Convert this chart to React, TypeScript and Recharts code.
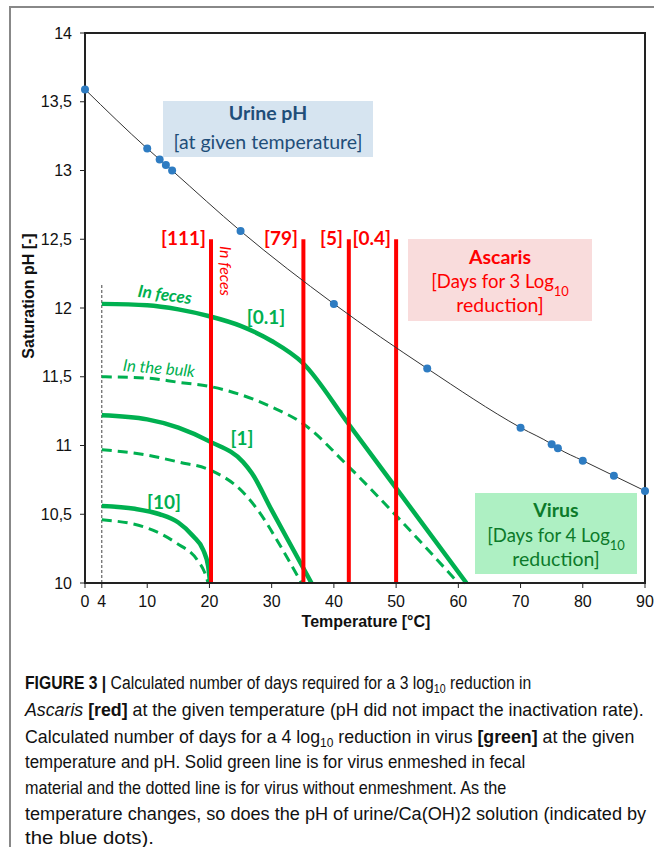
import {
  ComposedChart,
  Line,
  XAxis,
  YAxis,
  ReferenceLine,
  ReferenceArea,
} from "recharts";

// urine / Ca(OH)2 saturation pH at given temperature (blue dots)
const URINE_T = [0, 10, 12, 13, 14, 25, 40, 55, 70, 75, 76, 80, 85, 90];
const URINE_PH = [13.59, 13.16, 13.08, 13.04, 13.0, 12.56, 12.03, 11.56, 11.13, 11.01, 10.98, 10.89, 10.78, 10.67];

// Ascaris: red vertical lines (temperature) and days label
const ASCARIS_T = [20.25, 35.1, 42.4, 50.0];
const ASCARIS_DAYS = ["[111]", "[79]", "[5]", "[0.4]"];
const ASCARIS_TOP = 12.5;

// virus curves, in feces (solid) and in the bulk (dashed)
const FECES_01_T = [2.7, 10, 15, 20, 25, 30, 35, 42.3, 50, 61.3];
const FECES_01_PH = [12.03, 12.02, 11.99, 11.94, 11.87, 11.76, 11.6, 11.16, 10.69, 10.0];
const BULK_01_T = [2.7, 10, 15, 20, 25, 30, 35, 42.3, 50, 60];
const BULK_01_PH = [11.5, 11.49, 11.46, 11.43, 11.37, 11.28, 11.16, 10.85, 10.49, 10.0];
const FECES_1_T = [2.7, 10, 15, 20, 25.4, 26.8, 30, 33.5, 36.4];
const FECES_1_PH = [11.22, 11.19, 11.13, 11.03, 10.88, 10.8, 10.53, 10.24, 10.0];
const BULK_1_T = [2.7, 10, 15, 20.2, 25.4, 28.1, 31, 34.8];
const BULK_1_PH = [10.97, 10.93, 10.88, 10.82, 10.66, 10.51, 10.3, 10.0];
const FECES_10_T = [2.7, 8, 12, 15, 17.4, 19, 19.8, 20.1];
const FECES_10_PH = [10.56, 10.54, 10.5, 10.44, 10.34, 10.24, 10.12, 10.0];
const BULK_10_T = [2.7, 10, 14.7, 18, 19.2, 19.8];
const BULK_10_PH = [10.46, 10.4, 10.29, 10.17, 10.08, 10.0];

const START_T = 2.7;
const START_TOP = 12.18;

const X_TICKS = [0, 2.7, 10, 20, 30, 40, 50, 60, 70, 80, 90];
const X_TICK_LABELS = ["0", "4", "10", "20", "30", "40", "50", "60", "70", "80", "90"];
const Y_TICKS = [10, 10.5, 11, 11.5, 12, 12.5, 13, 13.5, 14];

const zip = (t: number[], ph: number[]) => t.map((x, i) => ({ t: x, ph: ph[i] }));

const GREEN = "#00b050";
const RED = "#ff0000";
const AXIS_FONT = "'Liberation Sans', Arial, sans-serif";
const NOTE_FONT = "Lato, 'Open Sans', sans-serif";

const Sub = ({ children }: { children: string }) => (
  <tspan baselineShift="sub" fontSize="0.7em">{children}</tspan>
);

// caption subscript: shift down, then back to the baseline
const CapSub = ({ children }: { children: string }) => (
  <>
    <tspan dy={4} fontSize={12.5}>{children}</tspan>
    <tspan dy={-4}> </tspan>
  </>
);

// caption line, squeezed horizontally like the original typesetting
const CapLine = ({ y, sx, children }: { y: number; sx: number; children: React.ReactNode }) => (
  <g transform={`translate(25 ${y}) scale(${sx} 1)`}>
    <text x={0} y={0}>{children}</text>
  </g>
);

const App = () => {
  return (
    <div style={{ position: "absolute", left: 0, top: 0, width: 654, height: 847, background: "#fff" }}>
      {/* figure frame */}
      <div style={{ position: "absolute", left: 9, top: 6, width: 645, height: 1.5, background: "#888" }} />
      <div style={{ position: "absolute", left: 9, top: 6, width: 1.5, height: 841, background: "#888" }} />

      <div style={{ position: "absolute", left: 0, top: 0 }}>
        <ComposedChart width={654} height={650} margin={{ top: 33, right: 9, bottom: 37, left: 25 }}>
          <XAxis
            type="number"
            dataKey="t"
            domain={[0, 90]}
            ticks={X_TICKS}
            tickFormatter={(v: number) => X_TICK_LABELS[X_TICKS.indexOf(v)] ?? String(v)}
            interval={0}
            height={30}
            tickSize={5}
            tickMargin={8}
            axisLine={{ stroke: "#222", strokeWidth: 2 }}
            tickLine={{ stroke: "#222" }}
            tick={{ fill: "#111", fontSize: 16, fontFamily: AXIS_FONT }}
            allowDuplicatedCategory={false}
          />
          <YAxis
            type="number"
            dataKey="ph"
            domain={[10, 14]}
            ticks={Y_TICKS}
            tickFormatter={(v: number) => String(v).replace(".", ",")}
            interval={0}
            width={60}
            tickSize={5}
            tickMargin={8}
            axisLine={{ stroke: "#222", strokeWidth: 2 }}
            tickLine={{ stroke: "#222" }}
            tick={{ fill: "#111", fontSize: 16, fontFamily: AXIS_FONT }}
          />
          <ReferenceArea x1={0} x2={90} y1={10} y2={14} fill="none" stroke="#222" strokeWidth={2} />
          <ReferenceLine
            segment={[{ x: START_T, y: 10 }, { x: START_T, y: START_TOP }]}
            stroke="#444"
            strokeWidth={1}
            strokeDasharray="3 2"
          />

          <Line data={zip(BULK_01_T, BULK_01_PH)} dataKey="ph" type="monotone" stroke={GREEN} strokeWidth={3} strokeDasharray="10 6" dot={false} isAnimationActive={false} />
          <Line data={zip(BULK_1_T, BULK_1_PH)} dataKey="ph" type="monotone" stroke={GREEN} strokeWidth={3} strokeDasharray="10 6" dot={false} isAnimationActive={false} />
          <Line data={zip(BULK_10_T, BULK_10_PH)} dataKey="ph" type="monotone" stroke={GREEN} strokeWidth={3} strokeDasharray="10 6" dot={false} isAnimationActive={false} />
          <Line data={zip(FECES_01_T, FECES_01_PH)} dataKey="ph" type="monotone" stroke={GREEN} strokeWidth={4.5} dot={false} isAnimationActive={false} />
          <Line data={zip(FECES_1_T, FECES_1_PH)} dataKey="ph" type="monotone" stroke={GREEN} strokeWidth={4.5} dot={false} isAnimationActive={false} />
          <Line data={zip(FECES_10_T, FECES_10_PH)} dataKey="ph" type="monotone" stroke={GREEN} strokeWidth={4.5} dot={false} isAnimationActive={false} />

          {ASCARIS_T.map((t) => (
            <ReferenceLine key={t} segment={[{ x: t, y: 10 }, { x: t, y: ASCARIS_TOP }]} stroke={RED} strokeWidth={4} />
          ))}

          <Line
            data={zip(URINE_T, URINE_PH)}
            dataKey="ph"
            type="monotone"
            stroke="#333"
            strokeWidth={1}
            dot={{ r: 4, fill: "#2e7cc2", stroke: "none" }}
            isAnimationActive={false}
          />
        </ComposedChart>
      </div>

      {/* annotations */}
      <svg width={654} height={847} style={{ position: "absolute", left: 0, top: 0, pointerEvents: "none" }}>
        <text x={28} y={296} transform="rotate(-90 28 296)" textAnchor="middle" dominantBaseline="central" fontFamily={AXIS_FONT} fontWeight="bold" fontSize={16} fill="#111">
          Saturation pH [-]
        </text>
        <text x={366} y={621} textAnchor="middle" dominantBaseline="central" fontFamily={AXIS_FONT} fontWeight="bold" fontSize={16} fill="#111">
          Temperature [°C]
        </text>

        <rect x={163} y={101} width={210} height={56} fill="#d6e4f0" />
        <text x={268} y={120} textAnchor="middle" fontFamily={NOTE_FONT} fontWeight="bold" fontSize={19.5} fill="#1f4e79">Urine pH</text>
        <text x={268} y={149} textAnchor="middle" fontFamily={NOTE_FONT} fontSize={19.5} fill="#1f4e79">[at given temperature]</text>

        <rect x={408} y={239} width={184} height={82} fill="#f9dcdc" />
        <text x={500} y={264} textAnchor="middle" fontFamily={NOTE_FONT} fontWeight="bold" fontSize={19.5} fill={RED}>Ascaris</text>
        <text x={500} y={288} textAnchor="middle" fontFamily={NOTE_FONT} fontSize={18.5} fill={RED}>[Days for 3 Log<Sub>10</Sub></text>
        <text x={500} y={312} textAnchor="middle" fontFamily={NOTE_FONT} fontSize={19.5} fill={RED}>reduction]</text>

        <rect x={475} y={493} width={162} height={81} fill="#aef0c3" />
        <text x={556} y={517} textAnchor="middle" fontFamily={NOTE_FONT} fontWeight="bold" fontSize={19.5} fill="#0c7a2a">Virus</text>
        <text x={556} y={542} textAnchor="middle" fontFamily={NOTE_FONT} fontSize={18.5} fill="#0c7a2a">[Days for 4 Log<Sub>10</Sub></text>
        <text x={556} y={566} textAnchor="middle" fontFamily={NOTE_FONT} fontSize={19.5} fill="#0c7a2a">reduction]</text>

        {ASCARIS_DAYS.map((d, i) => (
          <text key={d} x={[206, 298, 343, 391][i]} y={245} textAnchor="end" fontFamily={NOTE_FONT} fontWeight="bold" fontSize={19} fill={RED}>{d}</text>
        ))}
        <text x={226} y={271} transform="rotate(90 226 271)" textAnchor="middle" dominantBaseline="central" fontFamily={NOTE_FONT} fontStyle="italic" fontSize={16} fill={RED}>In feces</text>

        <text x={165} y={294} transform="rotate(8 165 294)" textAnchor="middle" dominantBaseline="central" fontFamily={NOTE_FONT} fontStyle="italic" fontWeight="bold" fontSize={17} fill={GREEN}>In feces</text>
        <text x={159} y={368} transform="rotate(5 159 368)" textAnchor="middle" dominantBaseline="central" fontFamily={NOTE_FONT} fontStyle="italic" fontSize={16.5} fill={GREEN}>In the bulk</text>
        <text x={266} y={316} textAnchor="middle" dominantBaseline="central" fontFamily={NOTE_FONT} fontWeight="bold" fontSize={19} fill={GREEN}>[0.1]</text>
        <text x={242} y={437} textAnchor="middle" dominantBaseline="central" fontFamily={NOTE_FONT} fontWeight="bold" fontSize={19} fill={GREEN}>[1]</text>
        <text x={164} y={501} textAnchor="middle" dominantBaseline="central" fontFamily={NOTE_FONT} fontWeight="bold" fontSize={19} fill={GREEN}>[10]</text>

        {/* caption */}
        <g fontFamily={AXIS_FONT} fontSize={18.5} fill="#111">
          <CapLine y={689} sx={0.85}>
            <tspan fontWeight="bold">FIGURE 3 |</tspan> Calculated number of days required for a 3 log<CapSub>10</CapSub>reduction in
          </CapLine>
          <CapLine y={716} sx={0.96}>
            <tspan fontStyle="italic">Ascaris</tspan> <tspan fontWeight="bold">[red]</tspan> at the given temperature (pH did not impact the inactivation rate).
          </CapLine>
          <CapLine y={743} sx={0.96}>
            Calculated number of days for a 4 log<CapSub>10</CapSub>reduction in virus <tspan fontWeight="bold">[green]</tspan> at the given
          </CapLine>
          <CapLine y={768} sx={0.915}>temperature and pH. Solid green line is for virus enmeshed in fecal</CapLine>
          <CapLine y={794} sx={0.875}>material and the dotted line is for virus without enmeshment. As the</CapLine>
          <CapLine y={820} sx={0.98}>temperature changes, so does the pH of urine/Ca(OH)2 solution (indicated by</CapLine>
          <CapLine y={844} sx={1.1}>the blue dots).</CapLine>
        </g>
      </svg>
    </div>
  );
};

export default App;
